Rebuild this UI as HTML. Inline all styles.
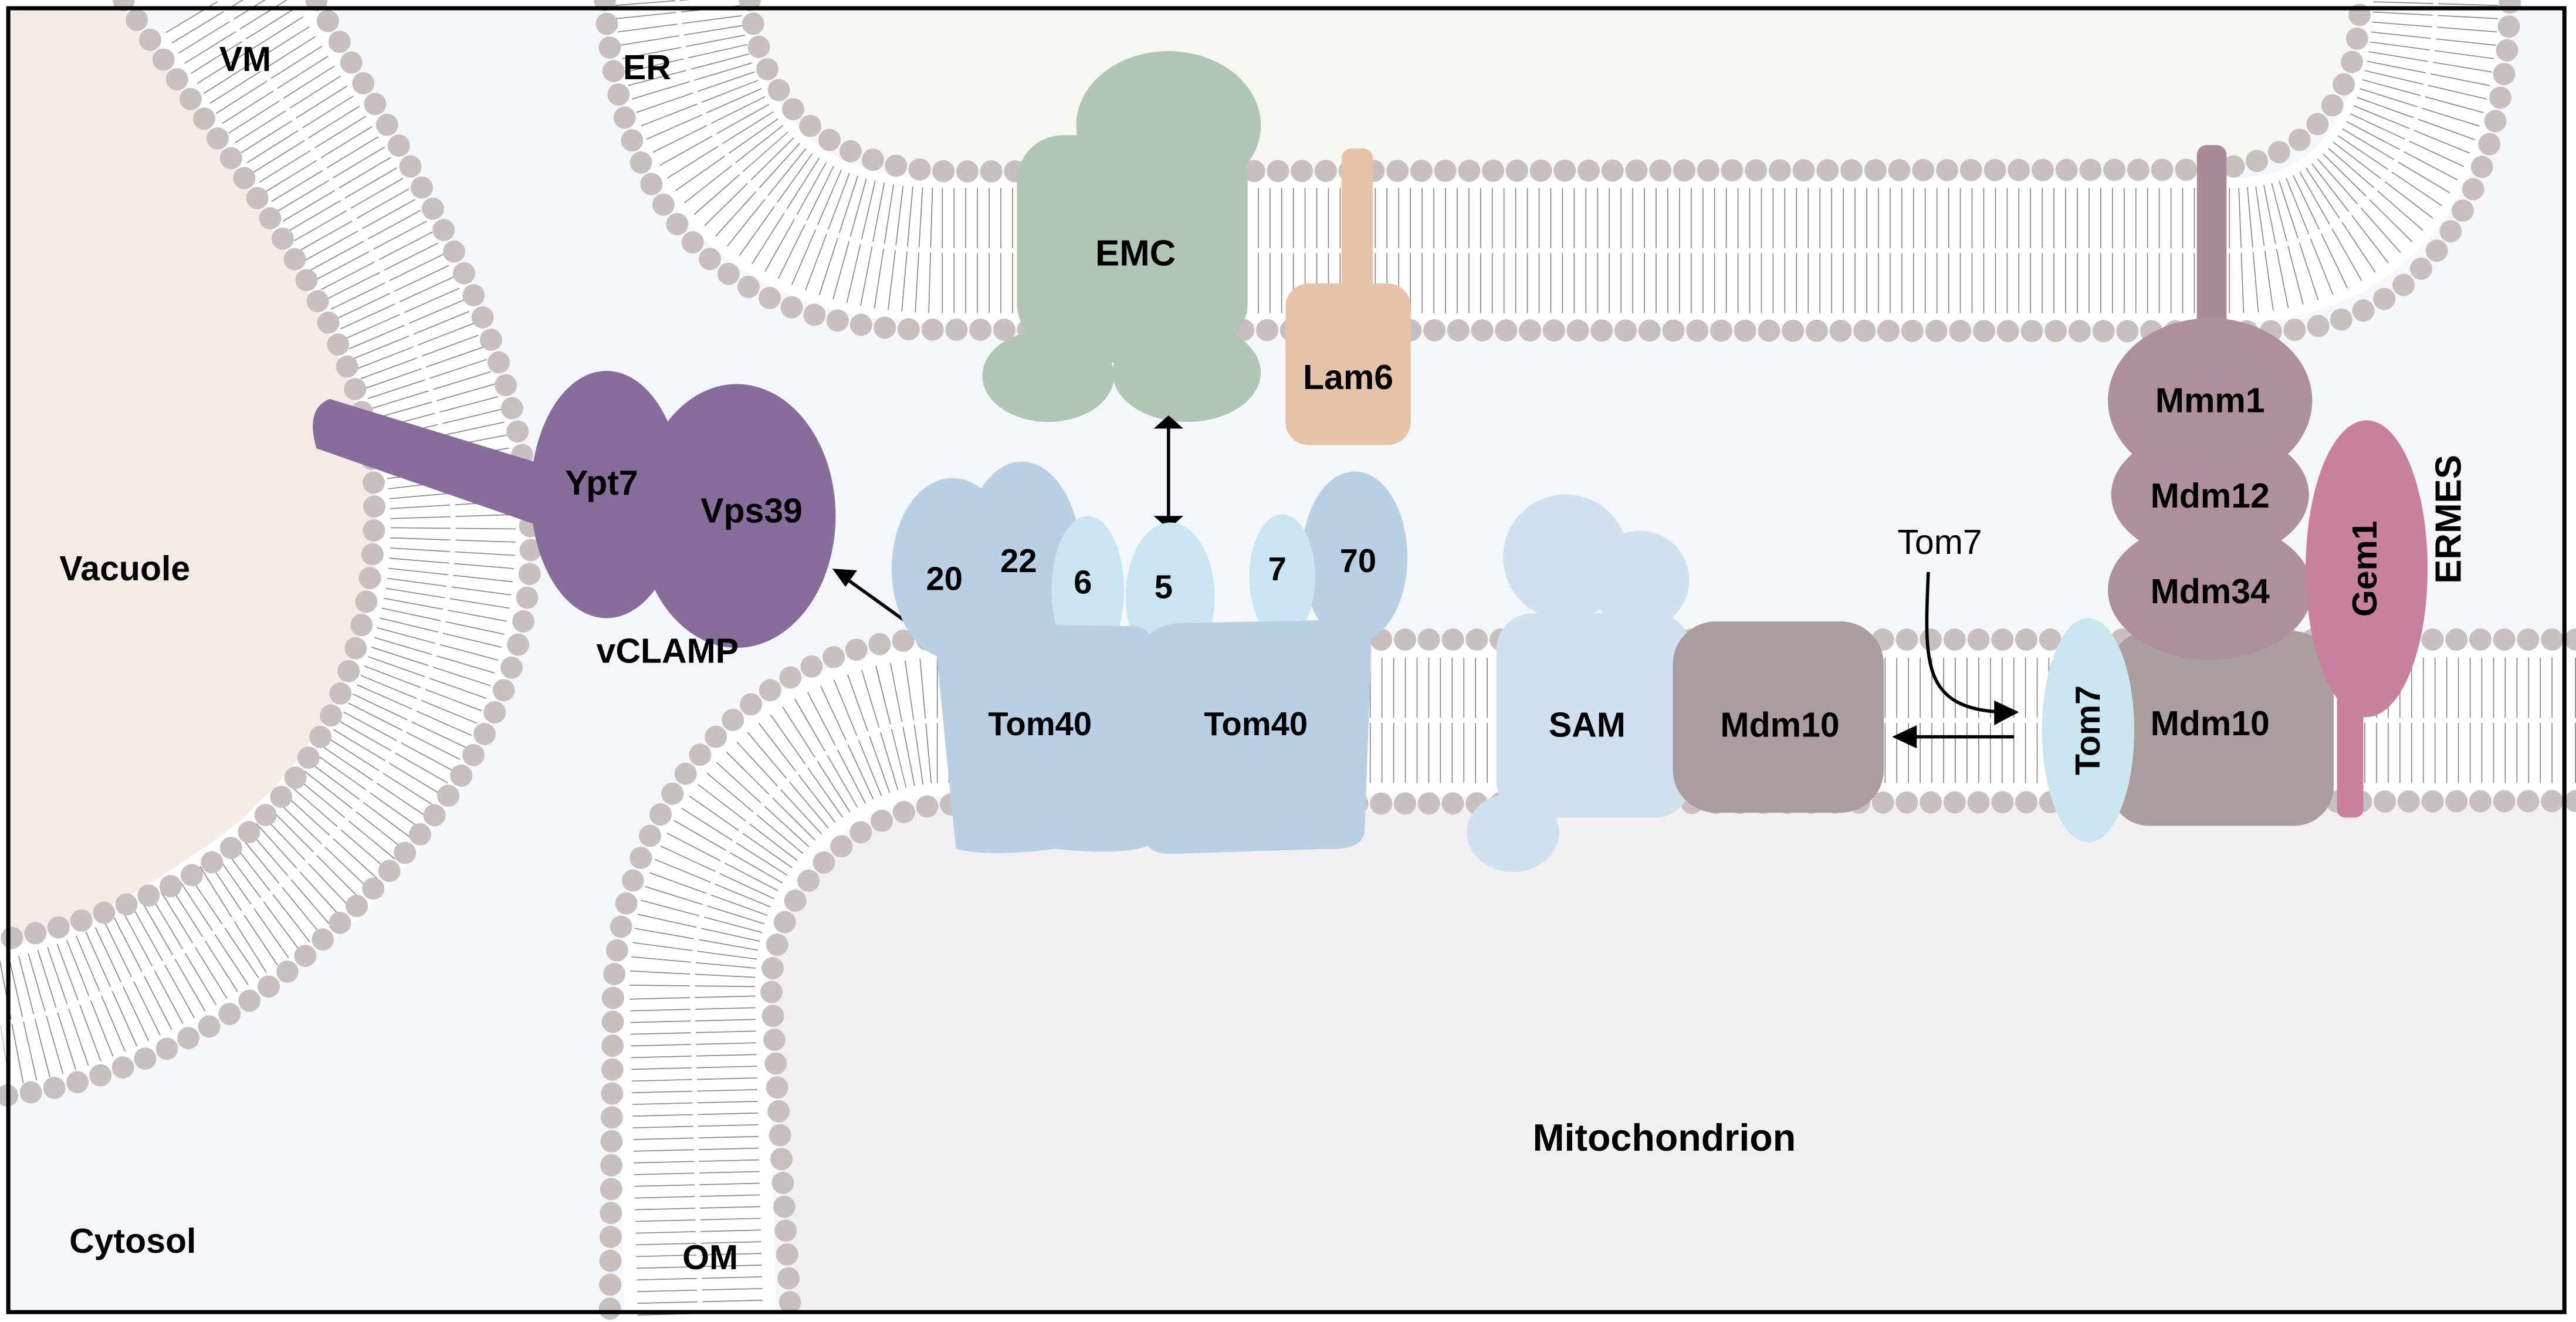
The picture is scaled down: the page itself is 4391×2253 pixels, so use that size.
<!DOCTYPE html>
<html><head><meta charset="utf-8"><style>
html,body{margin:0;padding:0;background:#fff}
svg{display:block}
text{font-family:"Liberation Sans",Arial,sans-serif;font-weight:bold;fill:#000}
</style></head><body>
<svg width="4391" height="2253" viewBox="0 0 1563 802" xmlns="http://www.w3.org/2000/svg">
<rect x="0" y="0" width="1563" height="802" fill="#fff"/>
<rect x="5" y="5" width="1551" height="791" fill="#f3f7fb"/>
<path d="M5,5 L75,5 C140,100 225,200 227,300 C230,420 170,510 98,540 C60,556 30,566 5,570 Z" fill="#f5ebe6"/>
<path d="M455,5 C460,60 500,104 580,104 L1331,103 C1400,103 1432,60 1432,5 Z" fill="#f4f8f0"/>
<path d="M1556,486 L575,488 C520,490 468,540 468,600 L480,796 L1556,796 Z" fill="#f1eff2"/>

<g fill="none">
<path d="M411,0 C418,90 465,151 570,152 L1354,152 C1435,152 1476,90 1478,0" stroke="#fff" stroke-width="88"/>
<path d="M133,0 C190,95 272,200 275,315 C276,430 210,515 141,558 C95,590 45,614 0,621" stroke="#fff" stroke-width="92"/>
<path d="M1563,437 L568,437 C495,440 420,505 420,600 L425,802" stroke="#fff" stroke-width="92"/>
<g stroke="#8f8486" stroke-width="76" stroke-dasharray="0.6 6.5">
<path d="M411,0 C418,90 465,151 570,152 L1354,152 C1435,152 1476,90 1478,0"/>
<path d="M133,0 C190,95 272,200 275,315 C276,430 210,515 141,558 C95,590 45,614 0,621"/>
<path d="M1563,437 L568,437 C495,440 420,505 420,600 L425,802"/>
</g>
<g stroke="#fff" stroke-width="3">
<path d="M411,0 C418,90 465,151 570,152 L1354,152 C1435,152 1476,90 1478,0"/>
<path d="M133,0 C190,95 272,200 275,315 C276,430 210,515 141,558 C95,590 45,614 0,621"/>
<path d="M1563,437 L568,437 C495,440 420,505 420,600 L425,802"/>
</g>
<g stroke="#c8bfbf" stroke-width="13.5" stroke-linecap="round" stroke-dasharray="0 14.5">
<path d="M367,0 C375,120 430,198 560,200 L1377,201 C1470,200 1520,120 1523,0"/>
<path d="M455,0 C460,60 500,104 580,104 L1331,103 C1400,103 1432,60 1432,0"/>
<path d="M75,0 C140,100 225,200 227,300 C230,420 170,510 98,540 C60,556 30,566 0,570"/>
<path d="M192,0 C240,90 320,200 322,330 C322,440 250,520 184,581 C130,630 60,660 0,665"/>
<path d="M1563,388 L560,388 C470,390 380,470 372,600 L370,802"/>
<path d="M1563,486 L575,488 C520,490 468,540 468,600 L480,802"/>
</g>
</g>

<g fill="#b0c6b4">
<ellipse cx="709" cy="76" rx="56" ry="45"/>
<rect x="617" y="82" width="140" height="130" rx="28"/>
<ellipse cx="636" cy="228" rx="40" ry="28"/>
<ellipse cx="720" cy="226" rx="45" ry="30"/>
<rect x="636" y="190" width="90" height="30"/>
</g>
<text x="689" y="161" font-size="22" text-anchor="middle">EMC</text>
<line x1="709" y1="257" x2="709" y2="316" stroke="#000" stroke-width="2"/>
<path d="M700,260 L709,252 L718,260 Z M700,313 L709,321 L718,313 Z" fill="#000"/>

<rect x="814" y="90" width="19" height="95" rx="6" fill="#e6c3a6"/>
<rect x="780" y="172" width="76" height="98" rx="14" fill="#e6c3a6"/>
<text x="818" y="236" font-size="21" text-anchor="middle">Lam6</text>

<g fill="#866d9b">
<path d="M200,242 L340,285 L330,320 L192,272 Q185,248 200,242 Z"/>
<ellipse cx="368" cy="300" rx="46" ry="75"/>
<ellipse cx="447" cy="313" rx="60" ry="80"/>
</g>
<text x="365" y="300" font-size="21" text-anchor="middle">Ypt7</text>
<text x="456" y="317" font-size="21" text-anchor="middle">Vps39</text>
<text x="405" y="402" font-size="21" text-anchor="middle">vCLAMP</text>
<line x1="551" y1="378" x2="512" y2="350" stroke="#000" stroke-width="2"/>
<path d="M505,345 L520,346 L513,356 Z" fill="#000"/>

<g fill="#b8cfe4">
<ellipse cx="578" cy="345" rx="37" ry="55"/>
<ellipse cx="620" cy="340" rx="36" ry="60"/>
<ellipse cx="822" cy="338" rx="32" ry="52"/>
</g>
<g fill="#c9e5f1">
<ellipse cx="660" cy="358" rx="22" ry="45"/>
<ellipse cx="710" cy="362" rx="27" ry="45"/>
<ellipse cx="778" cy="350" rx="20" ry="38"/>
</g>
<path d="M568,395 Q566,378 590,378 L690,380 Q700,382 700,398 L702,510 Q690,520 640,515 Q600,520 580,515 Z" fill="#b8cfe4"/>
<path d="M692,400 Q692,380 715,378 L818,376 Q832,378 832,395 L828,505 Q826,516 805,515 L710,518 Q694,518 694,505 Z" fill="#b8cfe4"/>
<g font-size="20" text-anchor="middle">
<text x="573" y="358">20</text>
<text x="618" y="347">22</text>
<text x="657" y="360">6</text>
<text x="706" y="363">5</text>
<text x="775" y="352">7</text>
<text x="824" y="347">70</text>
<text x="631" y="446">Tom40</text>
<text x="762" y="446">Tom40</text>
</g>

<g fill="#cfe0ef">
<circle cx="950" cy="338" r="38"/>
<circle cx="995" cy="352" r="30"/>
<rect x="908" y="372" width="118" height="124" rx="22"/>
<ellipse cx="918" cy="505" rx="28" ry="24"/>
</g>
<rect x="1015" y="377" width="128" height="116" rx="26" fill="#aa9d9d"/>
<text x="963" y="447" font-size="21" text-anchor="middle">SAM</text>
<text x="1080" y="447" font-size="21" text-anchor="middle">Mdm10</text>

<text x="1177" y="336" font-size="21" text-anchor="middle" style="font-weight:normal">Tom7</text>
<path d="M1170,347 C1168,400 1165,430 1215,432" fill="none" stroke="#000" stroke-width="2"/>
<path d="M1210,425 L1225,432 L1210,440 Z" fill="#000"/>
<line x1="1158" y1="447" x2="1222" y2="447" stroke="#000" stroke-width="2"/>
<path d="M1163,440 L1148,447 L1163,454 Z" fill="#000"/>

<rect x="1333" y="88" width="18" height="130" rx="6" fill="#a98a99"/>
<rect x="1280" y="383" width="136" height="118" rx="24" fill="#aa9d9d"/>
<g fill="#ae8f9e">
<ellipse cx="1341" cy="358" rx="62" ry="42"/>
<ellipse cx="1341" cy="300" rx="60" ry="40"/>
<ellipse cx="1341" cy="243" rx="62" ry="50"/>
</g>
<ellipse cx="1267" cy="443" rx="28" ry="68" fill="#c9e6f0"/>
<ellipse cx="1436" cy="345" rx="37" ry="90" fill="#c97f9e"/>
<rect x="1418" y="392" width="16" height="104" rx="5" fill="#c97f9e"/>
<g font-size="21" text-anchor="middle">
<text x="1341" y="250">Mmm1</text>
<text x="1341" y="308">Mdm12</text>
<text x="1341" y="366">Mdm34</text>
<text x="1341" y="446">Mdm10</text>
<text transform="translate(1274,443) rotate(-90)">Tom7</text>
<text transform="translate(1442,345) rotate(-90)">Gem1</text>
<text transform="translate(1493,315) rotate(-90)" font-size="22">ERMES</text>
</g>

<g font-size="21">
<text x="133" y="43">VM</text>
<text x="378" y="48">ER</text>
<text x="36" y="352">Vacuole</text>
<text x="42" y="760">Cytosol</text>
<text x="414" y="770">OM</text>
<text x="930" y="698" font-size="23">Mitochondrion</text>
</g>
<rect x="5" y="5" width="1551" height="791" fill="none" stroke="#000" stroke-width="2.5"/>
</svg>
</body></html>
